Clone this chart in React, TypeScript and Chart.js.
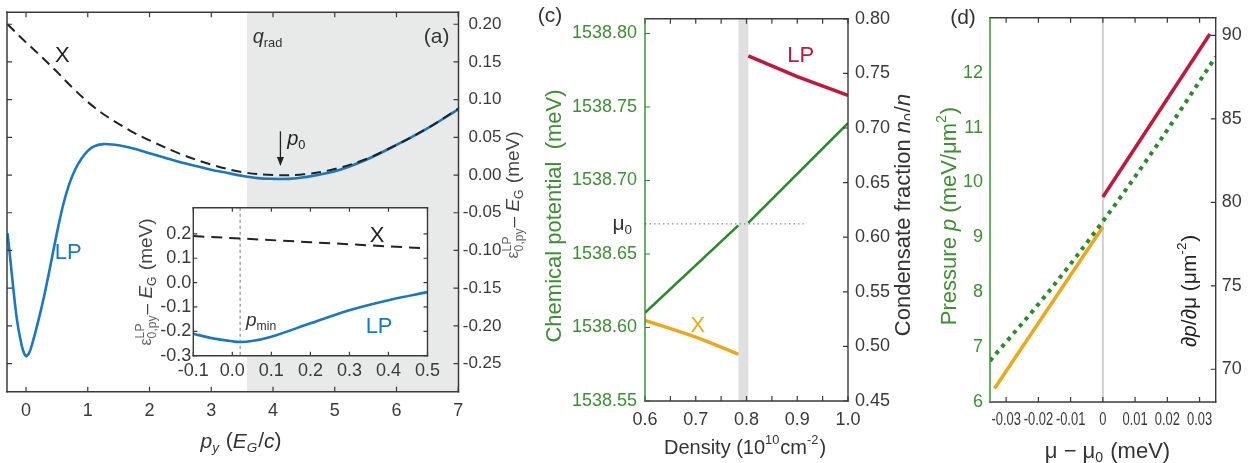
import React, { useEffect, useRef } from "react";
import { Chart, registerables } from "chart.js";

Chart.register(...registerables);

const FONT = "'Liberation Sans', Arial, Helvetica, sans-serif";
const DARK = "#3a3a3a";
const GREEN_TXT = "#3f8d35";
const GREEN_LINE = "#2c8a2c";
const BLUE = "#1b78c0";
const RED = "#c1173d";
const YELLOW = "#e9a91f";
const SHADE = "#e8eaea";

// ---------- Panel (a): main dispersion ----------
const lpMomentum = [-0.3, -0.25, -0.2, -0.15, -0.1, -0.05, 0.0, 0.05, 0.1, 0.2, 0.3, 0.4, 0.5, 0.6, 0.7, 0.8, 0.9, 1.0, 1.1, 1.25, 1.4, 1.6, 1.8, 2.0, 2.25, 2.5, 2.75, 3.0, 3.25, 3.5, 3.75, 4.0, 4.25, 4.5, 5.0, 5.5, 6.0, 6.5, 7.0];
const lpEnergy = [-0.077, -0.115, -0.155, -0.19, -0.214, -0.232, -0.24, -0.236, -0.224, -0.193, -0.158, -0.118, -0.077, -0.04, -0.012, 0.008, 0.022, 0.032, 0.038, 0.041, 0.0405, 0.038, 0.034, 0.029, 0.023, 0.017, 0.012, 0.007, 0.003, -0.001, -0.004, -0.005, -0.005, -0.003, 0.005, 0.02, 0.04, 0.062, 0.087];
const xMomentum = [-0.3, 0, 0.25, 0.5, 0.75, 1.0, 1.25, 1.5, 1.75, 2.0, 2.5, 3.0, 3.5, 4.0, 4.5, 5.0, 5.5, 6.0, 6.5, 7.0];
const xEnergy = [0.2, 0.176, 0.157, 0.137, 0.116, 0.097, 0.081, 0.068, 0.056, 0.046, 0.028, 0.014, 0.004, 0.0, 0.001, 0.008, 0.021, 0.04, 0.062, 0.088];
const aMomentumTicks = [0, 1, 2, 3, 4, 5, 6, 7];
const aEnergyTicks = [-0.25, -0.2, -0.15, -0.1, -0.05, 0, 0.05, 0.1, 0.15, 0.2];
const qRadFrom = 3.58;
const p0Momentum = 4.12;
const p0ArrowFrom = 0.058;
const p0ArrowTo = 0.012;

// ---------- Panel (a): inset ----------
const insetMomentum = [-0.1, -0.05, 0.0, 0.02, 0.05, 0.1, 0.2, 0.3, 0.4, 0.5];
const insetLP = [-0.21, -0.229, -0.241, -0.2435, -0.24, -0.222, -0.167, -0.113, -0.072, -0.039];
const insetXMomentum = [-0.1, 0.2, 0.5];
const insetX = [0.191, 0.166, 0.14];
const insetMomentumTicks = [-0.1, 0, 0.1, 0.2, 0.3, 0.4, 0.5];
const insetEnergyTicks = [-0.3, -0.2, -0.1, 0, 0.1, 0.2];
const pMin = 0.02;

// ---------- Panel (c) ----------
const densBelow = [0.6, 0.784];
const muBelow = [1538.61, 1538.6695];
const densAbove = [0.8035, 1.0];
const muAbove = [1538.6712, 1538.739];
const densX = [0.6, 0.7, 0.784];
const fracX = [0.5238, 0.5085, 0.4928];
const densLP = [0.8035, 0.9, 1.0];
const fracLP = [0.766, 0.747, 0.73];
const mu0Value = 1538.6705;
const mu0LineEnd = 0.913;
const gapFrom = 0.784;
const gapTo = 0.8035;
const cDensTicks = [0.6, 0.7, 0.8, 0.9, 1.0];
const cDensMinor = [0.6, 0.65, 0.7, 0.75, 0.8, 0.85, 0.9, 0.95, 1.0];
const cMuTicks = [1538.55, 1538.6, 1538.65, 1538.7, 1538.75, 1538.8];
const cFracTicks = [0.45, 0.5, 0.55, 0.6, 0.65, 0.7, 0.75, 0.8];

// ---------- Panel (d) ----------
const dMuX = [-0.0336, 0];
const dSlopeX = [68.85, 78.52];
const dMuLP = [0, 0.0332];
const dSlopeLP = [80.32, 90.08];
const dMuP = [-0.035, -0.0175, 0, 0.0175, 0.035];
const dPressure = [6.75, 7.96, 9.29, 10.74, 12.29];
const dMuTicks = [-0.03, -0.02, -0.01, 0, 0.01, 0.02, 0.03];
const dMuLabels = ["-0.03", "-0.02", "-0.01", "0", "0.01", "0.02", "0.03"];
const dPressureTicks = [6, 7, 8, 9, 10, 11, 12];
const dSlopeTicks = [70, 75, 80, 85, 90];

const xy = (xs: number[], ys: number[]) => xs.map((x, i) => ({ x, y: ys[i] }));

type Seg = { t?: string; i?: boolean; sub?: string; sup?: string; k?: number; c?: string };

function rich(
  ctx: CanvasRenderingContext2D,
  segs: Seg[],
  x: number,
  y: number,
  size: number,
  color: string,
  align: "left" | "center" | "right" = "center",
  rot = 0
) {
  ctx.save();
  ctx.translate(x, y);
  ctx.rotate(rot);
  ctx.textBaseline = "middle";
  ctx.textAlign = "left";
  const f = (s: number, it?: boolean) => `${it ? "italic " : ""}${s}px ${FONT}`;
  const widths = segs.map((sg) => {
    const k = sg.k ?? 1;
    if (sg.t !== undefined) {
      ctx.font = f(size * k, sg.i);
      return ctx.measureText(sg.t).width;
    }
    ctx.font = f(size * 0.64 * k, sg.i);
    return Math.max(sg.sub ? ctx.measureText(sg.sub).width : 0, sg.sup ? ctx.measureText(sg.sup).width : 0) + 1;
  });
  const total = widths.reduce((a, b) => a + b, 0);
  let cx = align === "center" ? -total / 2 : align === "right" ? -total : 0;
  segs.forEach((sg, idx) => {
    const k = sg.k ?? 1;
    ctx.fillStyle = sg.c ?? color;
    if (sg.t !== undefined) {
      ctx.font = f(size * k, sg.i);
      ctx.fillText(sg.t, cx, 0);
    } else {
      ctx.font = f(size * 0.64 * k, sg.i);
      if (sg.sup) ctx.fillText(sg.sup, cx, -size * 0.36 * k);
      if (sg.sub) ctx.fillText(sg.sub, cx, size * 0.3 * k);
    }
    cx += widths[idx];
  });
  ctx.restore();
}

type Side = "top" | "bottom" | "left" | "right";
type TickSpec = { axis: string; side: Side; values: number[]; len: number; color?: string };

function frame(chart: any, colors: Record<Side, string>, lw: number, ticks: TickSpec[]) {
  const { ctx, chartArea: a } = chart;
  ctx.save();
  ticks.forEach((t) => {
    const s = chart.scales[t.axis];
    ctx.strokeStyle = t.color ?? colors[t.side];
    ctx.lineWidth = 1.2;
    ctx.beginPath();
    t.values.forEach((v) => {
      const p = s.getPixelForValue(v);
      if (t.side === "bottom") { ctx.moveTo(p, a.bottom); ctx.lineTo(p, a.bottom - t.len); }
      if (t.side === "top") { ctx.moveTo(p, a.top); ctx.lineTo(p, a.top + t.len); }
      if (t.side === "left") { ctx.moveTo(a.left, p); ctx.lineTo(a.left + t.len, p); }
      if (t.side === "right") { ctx.moveTo(a.right, p); ctx.lineTo(a.right - t.len, p); }
    });
    ctx.stroke();
  });
  ctx.lineWidth = lw;
  ctx.lineCap = "square";
  const seg = (c: string, x1: number, y1: number, x2: number, y2: number) => {
    ctx.strokeStyle = c;
    ctx.beginPath();
    ctx.moveTo(x1, y1);
    ctx.lineTo(x2, y2);
    ctx.stroke();
  };
  seg(colors.top, a.left, a.top, a.right, a.top);
  seg(colors.bottom, a.left, a.bottom, a.right, a.bottom);
  seg(colors.right, a.right, a.top, a.right, a.bottom);
  seg(colors.left, a.left, a.top, a.left, a.bottom);
  ctx.restore();
}

function axis(o: {
  position: string;
  min: number;
  max: number;
  ticks: number[];
  fmt: (v: number) => string;
  size: number;
  color: string;
  padding: number;
  fit: number;
  crossAlign?: string;
  horizontal?: boolean;
  showLabels?: boolean;
}) {
  return {
    type: "linear",
    position: o.position,
    min: o.min,
    max: o.max,
    grid: { display: false, drawTicks: false },
    border: { display: false },
    title: { display: false },
    ticks: {
      display: o.showLabels ?? true,
      autoSkip: false,
      maxRotation: 0,
      minRotation: 0,
      color: o.color,
      padding: o.padding,
      crossAlign: o.crossAlign ?? "near",
      font: { family: FONT, size: o.size },
      callback: (v: any) => o.fmt(Number(v)),
    },
    afterBuildTicks: (s: any) => {
      s.ticks = o.ticks.map((v) => ({ value: v }));
    },
    afterFit: (s: any) => {
      if (o.horizontal) s.height = o.fit;
      else s.width = o.fit;
    },
  };
}

function base(padding: any) {
  return {
    responsive: false,
    maintainAspectRatio: false,
    animation: false,
    devicePixelRatio: 1,
    events: [],
    layout: { padding },
    plugins: { legend: { display: false }, tooltip: { enabled: false }, title: { display: false } },
    elements: { point: { radius: 0 } },
  };
}

const epsTitle: Seg[] = [
  { t: "ε", k: 0.85, c: "#666" },
  { sup: "LP", sub: "0,py", c: "#666" },
  { t: "– " },
  { t: "E", i: true },
  { sub: "G" },
  { t: " (meV)" },
];

// ---------- chart configs ----------
function makeMain() {
  return {
    type: "line",
    data: {
      datasets: [
        { data: xy(xMomentum, xEnergy), borderColor: "#222", borderWidth: 2, borderDash: [10, 6], tension: 0.35, pointRadius: 0 },
        { data: xy(lpMomentum, lpEnergy), borderColor: BLUE, borderWidth: 2.6, tension: 0.35, pointRadius: 0 },
      ],
    },
    options: {
      ...base({ left: 7, top: 8.5, right: 38.5, bottom: 0 }),
      scales: {
        x: axis({ position: "bottom", min: -0.308, max: 7.004, ticks: aMomentumTicks, fmt: (v) => String(v), size: 18, color: DARK, padding: 9, fit: 71.3, horizontal: true }),
        y: axis({ position: "right", min: -0.2873, max: 0.216, ticks: aEnergyTicks, fmt: (v) => v.toFixed(2), size: 17, color: DARK, padding: 2, fit: 43, crossAlign: "far" }),
      },
    },
    plugins: [
      {
        id: "panelA",
        beforeDatasetsDraw(chart: any) {
          const { ctx, chartArea: a, scales } = chart;
          const x0 = scales.x.getPixelForValue(qRadFrom);
          ctx.save();
          ctx.fillStyle = SHADE;
          ctx.fillRect(x0, a.top, a.right - x0, a.bottom - a.top);
          ctx.restore();
        },
        afterDatasetsDraw(chart: any) {
          const { ctx, scales } = chart;
          const xs = scales.x, ys = scales.y;
          frame(chart, { top: DARK, bottom: DARK, left: DARK, right: DARK }, 1.5, [
            { axis: "x", side: "bottom", values: aMomentumTicks, len: 5 },
            { axis: "x", side: "top", values: aMomentumTicks, len: 5 },
            { axis: "y", side: "left", values: aEnergyTicks, len: 5 },
            { axis: "y", side: "right", values: aEnergyTicks, len: 5 },
          ]);
          const ax = xs.getPixelForValue(p0Momentum);
          const y1 = ys.getPixelForValue(p0ArrowFrom);
          const y2 = ys.getPixelForValue(p0ArrowTo);
          ctx.save();
          ctx.strokeStyle = "#222";
          ctx.fillStyle = "#222";
          ctx.lineWidth = 1.3;
          ctx.beginPath();
          ctx.moveTo(ax, y1);
          ctx.lineTo(ax, y2 - 6);
          ctx.stroke();
          ctx.beginPath();
          ctx.moveTo(ax, y2);
          ctx.lineTo(ax - 3.5, y2 - 9);
          ctx.lineTo(ax + 3.5, y2 - 9);
          ctx.closePath();
          ctx.fill();
          ctx.restore();
          rich(ctx, [{ t: "p", i: true }, { sub: "0" }], xs.getPixelForValue(4.23), ys.getPixelForValue(0.0476), 20, "#222", "left");
          rich(ctx, [{ t: "q", i: true }, { sub: "rad" }], xs.getPixelForValue(3.67), ys.getPixelForValue(0.183), 20, "#333", "left");
          rich(ctx, [{ t: "(a)" }], xs.getPixelForValue(6.65), ys.getPixelForValue(0.183), 21, "#333");
          rich(ctx, [{ t: "X" }], xs.getPixelForValue(0.59), ys.getPixelForValue(0.158), 22, "#222");
          rich(ctx, [{ t: "LP" }], xs.getPixelForValue(0.685), ys.getPixelForValue(-0.103), 22, BLUE);
          rich(ctx, [{ t: "p", i: true }, { sub: "y", i: true }, { t: " (" }, { t: "E", i: true }, { sub: "G", i: true }, { t: "/" }, { t: "c", i: true }, { t: ")" }], 241, 441.7, 21, "#333");
          rich(ctx, epsTitle, 514, 195, 19, "#444", "center", -Math.PI / 2);
        },
      },
    ],
  };
}

function makeInset() {
  return {
    type: "line",
    data: {
      datasets: [
        { data: xy(insetXMomentum, insetX), borderColor: "#222", borderWidth: 2, borderDash: [11, 7], pointRadius: 0 },
        { data: xy(insetMomentum, insetLP), borderColor: BLUE, borderWidth: 2.6, cubicInterpolationMode: "monotone", pointRadius: 0 },
      ],
    },
    options: {
      ...base({ left: 0, top: 10, right: 7.7, bottom: 0 }),
      scales: {
        x: axis({ position: "bottom", min: -0.1, max: 0.5, ticks: insetMomentumTicks, fmt: (v) => v.toFixed(1), size: 18, color: DARK, padding: 5, fit: 29.3, horizontal: true }),
        y: axis({ position: "left", min: -0.3, max: 0.307, ticks: insetEnergyTicks, fmt: (v) => v.toFixed(1), size: 18, color: DARK, padding: 2, fit: 93.3 }),
      },
    },
    plugins: [
      {
        id: "inset",
        beforeDatasetsDraw(chart: any) {
          const { ctx, chartArea: a, scales } = chart;
          ctx.save();
          ctx.fillStyle = "#ffffff";
          ctx.fillRect(a.left, a.top, a.right - a.left, a.bottom - a.top);
          const px = scales.x.getPixelForValue(pMin);
          ctx.strokeStyle = "#8a8a8a";
          ctx.lineWidth = 1.2;
          ctx.setLineDash([3, 3]);
          ctx.beginPath();
          ctx.moveTo(px, a.top);
          ctx.lineTo(px, a.bottom);
          ctx.stroke();
          ctx.restore();
        },
        afterDatasetsDraw(chart: any) {
          const { ctx, scales } = chart;
          const xs = scales.x, ys = scales.y;
          frame(chart, { top: DARK, bottom: DARK, left: DARK, right: DARK }, 1.4, [
            { axis: "x", side: "bottom", values: insetMomentumTicks, len: 4 },
            { axis: "x", side: "top", values: insetMomentumTicks, len: 4 },
            { axis: "y", side: "left", values: insetEnergyTicks, len: 4 },
            { axis: "y", side: "right", values: insetEnergyTicks, len: 4 },
          ]);
          rich(ctx, [{ t: "p", i: true }, { sub: "min" }], xs.getPixelForValue(0.035), ys.getPixelForValue(-0.156), 19, "#333", "left");
          rich(ctx, [{ t: "X" }], xs.getPixelForValue(0.371), ys.getPixelForValue(0.193), 22, "#222");
          rich(ctx, [{ t: "LP" }], xs.getPixelForValue(0.376), ys.getPixelForValue(-0.183), 22, BLUE);
          rich(ctx, epsTitle, 47, 87, 19, "#444", "center", -Math.PI / 2);
        },
      },
    ],
  };
}

const C_LEFT = 530;
function makeC() {
  return {
    type: "line",
    data: {
      datasets: [
        { data: xy(densLP, fracLP), yAxisID: "y2", borderColor: RED, borderWidth: 3.5, pointRadius: 0 },
        { data: xy(densX, fracX), yAxisID: "y2", borderColor: YELLOW, borderWidth: 3.5, cubicInterpolationMode: "monotone", pointRadius: 0 },
        { data: xy(densBelow, muBelow), yAxisID: "y", borderColor: GREEN_LINE, borderWidth: 2.6, pointRadius: 0 },
        { data: xy(densAbove, muAbove), yAxisID: "y", borderColor: GREEN_LINE, borderWidth: 2.6, pointRadius: 0 },
      ],
    },
    options: {
      ...base({ left: 0, top: 6, right: 0, bottom: 0 }),
      scales: {
        x: axis({ position: "bottom", min: 0.6, max: 1.0, ticks: cDensTicks, fmt: (v) => v.toFixed(1), size: 18, color: DARK, padding: 8, fit: 62, horizontal: true }),
        y: axis({ position: "left", min: 1538.55, max: 1538.81, ticks: cMuTicks, fmt: (v) => v.toFixed(2), size: 18, color: GREEN_TXT, padding: 8, fit: 115 }),
        y2: axis({ position: "right", min: 0.45, max: 0.8, ticks: cFracTicks, fmt: (v) => v.toFixed(2), size: 18, color: DARK, padding: 7, fit: 62 }),
      },
    },
    plugins: [
      {
        id: "panelC",
        beforeDatasetsDraw(chart: any) {
          const { ctx, chartArea: a, scales } = chart;
          const x1 = scales.x.getPixelForValue(gapFrom);
          const x2 = scales.x.getPixelForValue(gapTo);
          ctx.save();
          ctx.fillStyle = "#e0e0e0";
          ctx.fillRect(x1, a.top, x2 - x1, a.bottom - a.top);
          const my = scales.y.getPixelForValue(mu0Value);
          ctx.strokeStyle = "#8c8c8c";
          ctx.lineWidth = 1.2;
          ctx.setLineDash([1.5, 3]);
          ctx.beginPath();
          ctx.moveTo(a.left, my);
          ctx.lineTo(scales.x.getPixelForValue(mu0LineEnd), my);
          ctx.stroke();
          ctx.restore();
        },
        afterDatasetsDraw(chart: any) {
          const { ctx, chartArea: a, scales } = chart;
          const xs = scales.x;
          frame(chart, { top: DARK, bottom: DARK, left: GREEN_LINE, right: DARK }, 1.4, [
            { axis: "x", side: "bottom", values: cDensMinor, len: 5 },
            { axis: "x", side: "top", values: cDensMinor, len: 5 },
            { axis: "y", side: "left", values: cMuTicks, len: 5 },
            { axis: "y2", side: "right", values: cFracTicks, len: 5 },
          ]);
          rich(ctx, [{ t: "LP" }], xs.getPixelForValue(0.907), scales.y2.getPixelForValue(0.766), 22, RED);
          rich(ctx, [{ t: "X" }], xs.getPixelForValue(0.704), scales.y2.getPixelForValue(0.519), 22, YELLOW);
          rich(ctx, [{ t: "μ" }, { sub: "0" }], a.left - 12, scales.y.getPixelForValue(mu0Value), 21, "#333", "right");
          rich(ctx, [{ t: "(c)" }], 550 - C_LEFT, 16, 21, "#333");
          rich(ctx, [{ t: "Chemical potential  (meV)" }], 555 - C_LEFT, 216, 22, GREEN_TXT, "center", -Math.PI / 2);
          rich(ctx, [{ t: "Condensate fraction " }, { t: "n", i: true }, { sub: "0" }, { t: "/" }, { t: "n", i: true }], 904 - C_LEFT, 215, 22, "#333", "center", -Math.PI / 2);
          rich(ctx, [{ t: "Density (10" }, { sup: "10" }, { t: "cm" }, { sup: "-2" }, { t: ")" }], 745 - C_LEFT, 448, 20, "#333");
        },
      },
    ],
  };
}

const D_LEFT = 900;
function makeD() {
  return {
    type: "line",
    data: {
      datasets: [
        { data: xy(dMuP, dPressure), yAxisID: "y", borderColor: GREEN_LINE, borderWidth: 4, borderDash: [4, 5], cubicInterpolationMode: "monotone", pointRadius: 0 },
        { data: xy(dMuLP, dSlopeLP), yAxisID: "y2", borderColor: RED, borderWidth: 3.5, pointRadius: 0 },
        { data: xy(dMuX, dSlopeX), yAxisID: "y2", borderColor: YELLOW, borderWidth: 3.5, pointRadius: 0 },
      ],
    },
    options: {
      ...base({ left: 0, top: 6, right: 0, bottom: 0 }),
      scales: {
        x: axis({ position: "bottom", min: -0.035, max: 0.035, ticks: dMuTicks, fmt: (v) => (Math.abs(v) < 1e-9 ? "0" : v.toFixed(2)), size: 16, color: DARK, padding: 8, fit: 61, horizontal: true, showLabels: false }),
        y: axis({ position: "left", min: 6, max: 13, ticks: dPressureTicks, fmt: (v) => String(v), size: 18, color: GREEN_TXT, padding: 7, fit: 90 }),
        y2: axis({ position: "right", min: 68.04, max: 91.05, ticks: dSlopeTicks, fmt: (v) => String(v), size: 18, color: DARK, padding: 6, fit: 42.3 }),
      },
    },
    plugins: [
      {
        id: "panelD",
        beforeDatasetsDraw(chart: any) {
          const { ctx, chartArea: a, scales } = chart;
          const x0 = scales.x.getPixelForValue(0);
          ctx.save();
          ctx.strokeStyle = "#cfcfcf";
          ctx.lineWidth = 2;
          ctx.beginPath();
          ctx.moveTo(x0, a.top);
          ctx.lineTo(x0, a.bottom);
          ctx.stroke();
          ctx.restore();
        },
        afterDatasetsDraw(chart: any) {
          const { ctx, chartArea: a, scales } = chart;
          frame(chart, { top: DARK, bottom: DARK, left: GREEN_LINE, right: DARK }, 1.4, [
            { axis: "x", side: "bottom", values: dMuTicks, len: 5 },
            { axis: "x", side: "top", values: dMuTicks, len: 5 },
            { axis: "y2", side: "right", values: dSlopeTicks, len: 5 },
          ]);
          // narrow tick labels of the mu axis (placed at the scale's tick pixels)
          ctx.save();
          ctx.fillStyle = DARK;
          ctx.font = `19px ${FONT}`;
          ctx.textAlign = "center";
          ctx.textBaseline = "middle";
          dMuTicks.forEach((v, i) => {
            ctx.save();
            ctx.translate(scales.x.getPixelForValue(v), a.bottom + 18);
            ctx.scale(0.68, 1);
            ctx.fillText(dMuLabels[i], 0, 0);
            ctx.restore();
          });
          ctx.restore();
          rich(ctx, [{ t: "(d)" }], 963 - D_LEFT, 18, 21, "#333");
          rich(ctx, [{ t: "Pressure " }, { t: "p", i: true }, { t: " (meV/μm" }, { sup: "2" }, { t: ")" }], 950 - D_LEFT, 216, 22, GREEN_TXT, "center", -Math.PI / 2);
          rich(ctx, [{ t: "∂" }, { t: "p", i: true }, { t: "/∂μ (μm" }, { sup: "-2" }, { t: ")" }], 1190 - D_LEFT, 291, 21, "#222", "center", -Math.PI / 2);
          rich(ctx, [{ t: "μ − μ" }, { sub: "0" }, { t: " (meV)" }], 1107.5 - D_LEFT, 451.7, 22, "#333");
        },
      },
    ],
  };
}

function ChartCanvas(props: { left: number; top: number; width: number; height: number; make: () => any }) {
  const ref = useRef<HTMLCanvasElement>(null);
  useEffect(() => {
    const chart = new Chart(ref.current as HTMLCanvasElement, props.make());
    return () => chart.destroy();
  }, []);
  return (
    <canvas
      ref={ref}
      width={props.width}
      height={props.height}
      style={{ position: "absolute", left: props.left, top: props.top, width: props.width, height: props.height }}
    />
  );
}

export default function App() {
  return (
    <div style={{ position: "absolute", left: 0, top: 0, width: 1258, height: 463, background: "#fff", overflow: "hidden" }}>
      <ChartCanvas left={0} top={0} width={540} height={463} make={makeMain} />
      <ChartCanvas left={100} top={195} width={345} height={190} make={makeInset} />
      <ChartCanvas left={C_LEFT} top={0} width={380} height={463} make={makeC} />
      <ChartCanvas left={D_LEFT} top={0} width={358} height={463} make={makeD} />
    </div>
  );
}
